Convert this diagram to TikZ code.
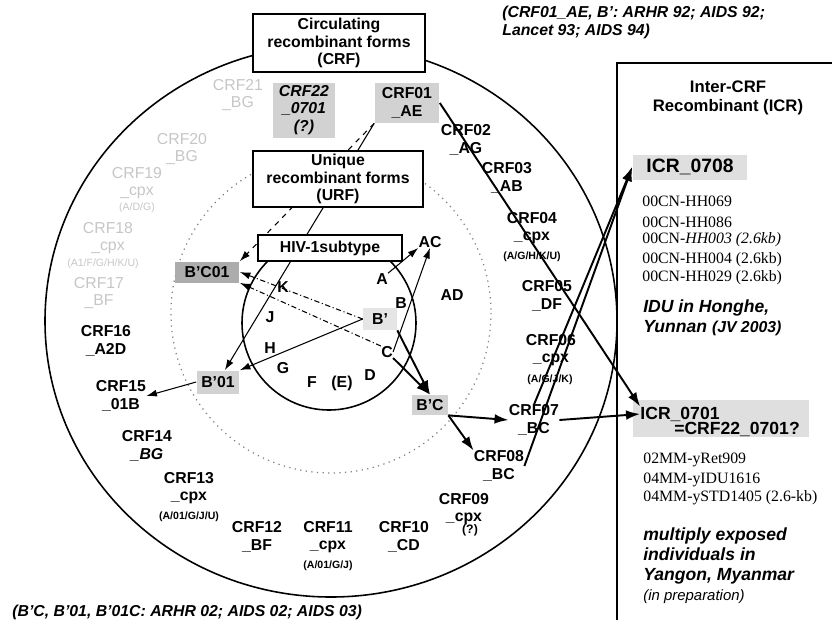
\documentclass[tikz,border=0pt]{standalone}
\usepackage{fontspec}
\setmainfont{Liberation Serif}
\setsansfont{Liberation Sans}
\usetikzlibrary{arrows.meta}

\begin{document}
\begin{tikzpicture}[x=0.02cm,y=-0.02cm,
  lbl/.style={font=\fontsize{9}{9.8}\selectfont\sffamily\bfseries,align=center,inner sep=0pt},
  sml/.style={font=\fontsize{6}{7}\selectfont\sffamily\bfseries,inner sep=0pt},
  faded/.style={font=\fontsize{9}{9.8}\selectfont\sffamily,align=center,inner sep=0pt,text=gray!45},
  fadedsml/.style={font=\fontsize{6}{7}\selectfont\sffamily,inner sep=0pt,text=gray!45},
  hdr/.style={draw,line width=1.1pt,fill=white,font=\fontsize{9}{9.8}\selectfont\sffamily\bfseries,align=center,inner sep=0pt},
  shade/.style={fill=gray!35,inner sep=0pt,font=\fontsize{9}{9.8}\selectfont\sffamily\bfseries,align=center},
  big/.style={font=\fontsize{10}{11}\selectfont\sffamily\bfseries,inner sep=0pt},
  strain/.style={font=\fontsize{9}{10}\selectfont\rmfamily,anchor=west,inner sep=0pt},
  note/.style={font=\fontsize{10}{11.4}\selectfont\sffamily\bfseries\itshape,anchor=west,align=left,inner sep=0pt},
  cite/.style={font=\fontsize{9}{10.2}\selectfont\sffamily\bfseries\itshape,align=left,inner sep=0pt},
  arr/.style={-{Latex[length=8pt,width=5.5pt]},line width=1.1pt},
  thinarr/.style={-{Latex[length=6pt,width=4pt]},line width=0.6pt}]
\useasboundingbox (0,0) rectangle (832,620);

\draw[line width=0.9pt] (331,321) ellipse [x radius=286,y radius=276];
\draw[gray,line width=0.7pt,dash pattern=on 0.7pt off 2.5pt] (331,313) circle [radius=160];
\draw[line width=0.9pt] (329,323) circle [radius=87];
\draw[line width=0.9pt] (617,620) -- (617,63) -- (832,63);

\node[cite,anchor=north west] (cite92) at (502,6) {(CRF01\_AE, B': ARHR 92; AIDS 92;\\Lancet 93; AIDS 94)};
\node[cite,anchor=west] (cite02) at (12,612) {(B'C, B'01, B'01C: ARHR 02; AIDS 02; AIDS 03)};

% shaded forms
\node[shade,font=\fontsize{9}{9.8}\selectfont\sffamily\bfseries\itshape,minimum width=1.24cm,minimum height=1.1cm] (crf22) at (304,110) {CRF22\\\_0701\\(?)};
\node[shade,minimum width=1.3cm,minimum height=0.8cm] (crf01) at (407,103) {CRF01\\\_AE};
\node[shade,fill=gray!65,minimum width=1.3cm,minimum height=0.42cm] (bc01) at (207,272) {B'C01};
\node[shade,minimum width=0.86cm,minimum height=0.46cm] (b01) at (218,382) {B'01};
\node[shade,minimum width=0.72cm,minimum height=0.4cm] (bpc) at (430,405) {B'C};
\node[shade,fill=gray!20,minimum width=0.68cm,minimum height=0.44cm] (bp) at (380,319) {B'};

% subtypes
\node[lbl] (sK) at (283,287) {K};
\node[lbl] (sJ) at (270,317) {J};
\node[lbl] (sH) at (270,348) {H};
\node[lbl] (sG) at (283,368) {G};
\node[lbl] (sF) at (312,382) {F};
\node[lbl] (sE) at (342,383) {(E)};
\node[lbl] (sD) at (370,375) {D};
\node[lbl] (sC) at (387,352) {C};
\node[lbl] (sB) at (401,303) {B};
\node[lbl] (sA) at (382,279) {A};
\node[lbl] (sAC) at (430,242) {AC};
\node[lbl] (sAD) at (452,295) {AD};

% CRFs
\node[lbl] (crf02) at (466,140) {CRF02\\\_AG};
\node[lbl] (crf03) at (507,178) {CRF03\\\_AB};
\node[lbl] (crf04) at (532,228) {CRF04\\\_cpx};
\node[sml] (crf04s) at (532,257) {(A/G/H/K/U)};
\node[lbl] (crf05) at (547,296) {CRF05\\\_DF};
\node[lbl] (crf06) at (551,350) {CRF06\\\_cpx};
\node[sml] (crf06s) at (550,380) {(A/G/J/K)};
\node[lbl] (crf07) at (534,420) {CRF07\\\_BC};
\node[lbl] (crf08) at (499,466) {CRF08\\\_BC};
\node[lbl] (crf09) at (464,509) {CRF09\\\_cpx};
\node[sml,font=\fontsize{7}{8}\selectfont\sffamily\bfseries] (crf09s) at (470,530) {(?)};
\node[lbl] (crf10) at (404,537) {CRF10\\\_CD};
\node[lbl] (crf11) at (328,537) {CRF11\\\_cpx};
\node[sml] (crf11s) at (328,566) {(A/01/G/J)};
\node[lbl] (crf12) at (257,537) {CRF12\\\_BF};
\node[lbl] (crf13) at (189,488) {CRF13\\\_cpx};
\node[sml] (crf13s) at (189,517) {(A/01/G/J/U)};
\node[lbl] (crf14) at (147,446) {CRF14\\\textit{\_BG}};
\node[lbl] (crf15) at (121,396) {CRF15\\\_01B};
\node[lbl] (crf16) at (106,341) {CRF16\\\_A2D};
\node[faded] (crf17) at (99,293) {CRF17\\\_BF};
\node[faded] (crf18) at (108,238) {CRF18\\\_cpx};
\node[fadedsml] (crf18s) at (103,264) {(A1/F/G/H/K/U)};
\node[faded] (crf19) at (137,183) {CRF19\\\_cpx};
\node[fadedsml] (crf19s) at (137,208) {(A/D/G)};
\node[faded] (crf20) at (182,149) {CRF20\\\_BG};
\node[faded] (crf21) at (238,95) {CRF21\\\_BG};

% ICR panel
\node[lbl,font=\fontsize{9.5}{10.6}\selectfont\sffamily\bfseries] (icr) at (728,98) {Inter-CRF\\Recombinant (ICR)};
\node[shade,fill=gray!25,minimum width=2.3cm,minimum height=0.5cm,font=\fontsize{11}{12}\selectfont\sffamily\bfseries] (icr0708) at (690,167) {ICR\_0708};
\foreach \y/\s in {201/00CN-HH069,222/00CN-HH086,240/00CN-\textit{HH003 (2.6kb)},260/00CN-HH004 (2.6kb),278/00CN-HH029 (2.6kb)}
  \node[strain] (hh\y) at (642,\y) {\s};
\node[note] (idu) at (643,318) {IDU in Honghe,\\Yunnan {\fontsize{9}{10}\selectfont(JV 2003)}};
\node[shade,fill=gray!25,minimum width=3.54cm,minimum height=0.74cm] (icrbg) at (721,418) {};
\node[big] (icr0701) at (680,414) {ICR\_0701};
\node[big] (icr22) at (737,429) {=CRF22\_0701?};
\foreach \y/\s in {460/02MM-yRet909,480/04MM-yIDU1616,498/04MM-ySTD1405 (2.6-kb)}
  \node[strain] (mm\y) at (643,\y) {\s};
\node[note] (yangon) at (643,566) {multiply exposed\\individuals in\\Yangon, Myanmar\\{\mdseries\fontsize{8.5}{9.5}\selectfont(in preparation)}};

% links
\draw[thinarr,dashed] (crf01.south west) -- (bc01.north east);
\draw[thinarr] (crf01.south west) -- (b01.60);
\draw[thinarr,dash pattern=on 3pt off 1.5pt on 0.6pt off 1.5pt] (bp.west) -- (bc01.east);
\draw[thinarr,dash pattern=on 3pt off 1.5pt on 0.6pt off 1.5pt] (sC.north west) -- (bc01.south east);
\draw[thinarr] (bp.west) -- (b01.north east);
\draw[thinarr] (sA.north east) -- (sAC.south west);
\draw[thinarr] (sC.east) -- (sAC.south);
\draw[arr] (bp.south east) -- (bpc.north);
\draw[arr] (sC.south east) -- (bpc.north);
\draw[arr] (bpc.south east) -- (crf07.west);
\draw[arr] (bpc.south east) -- (crf08.north west);
\draw[thinarr] (b01.west) -- (crf15.east);
\draw[arr] (crf07.east) -- (icr0701.west);
\draw[arr] (crf01.east) -- (icr0701.north west);
\draw[arr] (crf07.north) -- (icr0708.west);
\draw[arr] (crf08.east) -- (icr0708.west);

% boxes
\node[hdr,minimum width=3.44cm,minimum height=1.16cm] (crfbox) at (339,43) {Circulating\\recombinant forms\\(CRF)};
\node[hdr,minimum width=3.4cm,minimum height=1.12cm] (urfbox) at (338,179) {Unique\\recombinant forms\\(URF)};
\node[hdr,minimum width=2.88cm,minimum height=0.52cm] (hivbox) at (330,248) {HIV-1subtype};
\end{tikzpicture}
\end{document}
